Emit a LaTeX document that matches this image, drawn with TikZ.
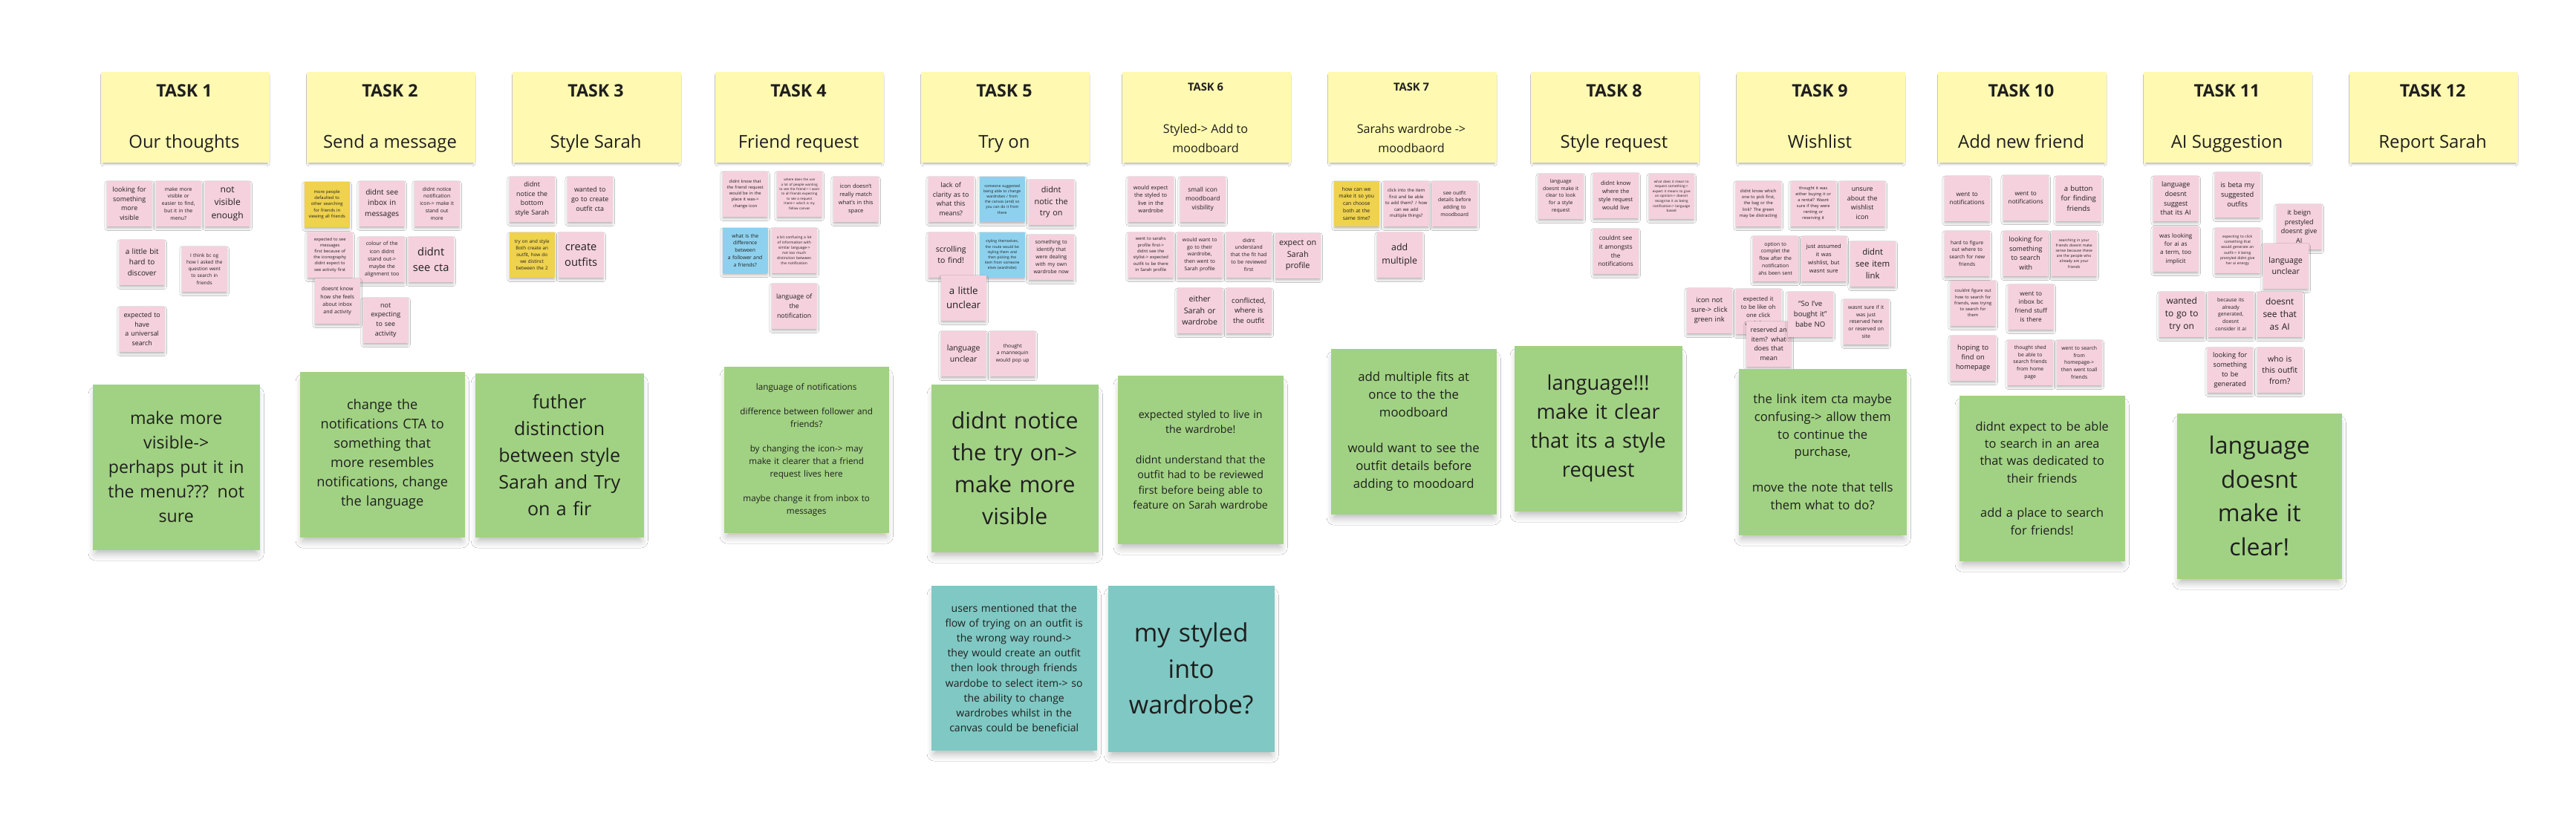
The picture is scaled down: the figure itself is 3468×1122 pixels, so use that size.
\documentclass[tikz,border=0pt]{standalone}
\usepackage{fontspec}
\setmainfont{Open Sans}
\usetikzlibrary{shadows.blur}
\definecolor{hdr}{HTML}{FFF9B1}
\definecolor{pnk}{HTML}{F5D1DD}
\definecolor{ylw}{HTML}{EFD24D}
\definecolor{blu}{HTML}{8ED1EE}
\definecolor{grn}{HTML}{A1D283}
\definecolor{tea}{HTML}{80C8C3}
\definecolor{txt}{HTML}{1F1F1F}
\newcommand\fsz[1]{\pgfmathsetmacro\fszv{0.70*#1}\fontsize{\fszv pt}{#1pt}\selectfont}
\tikzset{
  fs/.style={font=\fsz{#1}},
  stickynote/.style={anchor=north west, inner sep=0pt, align=center, text=txt,
    blur shadow={shadow xshift=0pt, shadow yshift=-0.9pt, shadow blur radius=1.1pt,
      shadow blur steps=5, shadow opacity=35, shadow scale=0.97}},
  bignote/.style={anchor=north west, inner sep=0pt, align=center, text=txt,
    blur shadow={shadow xshift=0pt, shadow yshift=-2.6pt, shadow blur radius=3pt,
      shadow blur steps=6, shadow opacity=30, shadow scale=0.96}},
  hdrtitle/.style={text=txt, font=\fontsize{6.6pt}{8pt}\selectfont\bfseries, inner sep=0pt, anchor=base},
  hdrsub/.style={text=txt, font=\fontsize{6.8pt}{8pt}\selectfont, inner sep=0pt, anchor=base},
  hdrtitlesm/.style={text=txt, font=\fontsize{4.2pt}{5pt}\selectfont\bfseries, inner sep=0pt, anchor=base},
  hdrsubsm/.style={text=txt, font=\fontsize{4.6pt}{7.4pt}\selectfont, inner sep=0pt, align=center},
}
% name, x, y, w, h, colour, baselineskip, text
\newcommand\stknote[8]{%
  \pgfmathsetmacro\stkw{#4*0.01}\pgfmathsetmacro\stkh{#5*0.01}\pgfmathsetmacro\stktw{#4*0.0096}%
  \node[stickynote, fill=#6, minimum width=\stkw cm, minimum height=\stkh cm, text width=\stktw cm, fs=#7] (#1) at (#2,#3) {#8};}
\newcommand\pnote[5]{\stknote{#1}{#2}{#3}{61}{61}{pnk}{#4}{#5}}
\newcommand\cnote[6]{\stknote{#1}{#2}{#3}{61}{61}{#4}{#5}{#6}}
\newcommand\bnote[8]{%
  \pgfmathsetmacro\stkw{#4*0.01}\pgfmathsetmacro\stkh{#5*0.01}\pgfmathsetmacro\stktw{#4*0.0096}%
  \node[bignote, fill=#6, minimum width=\stkw cm, minimum height=\stkh cm, text width=\stktw cm, fs=#7] (#1) at (#2,#3) {#8};}
\newcommand\hdbox[3]{%
  \node[stickynote, fill=hdr, minimum width=2.27cm, minimum height=1.22cm] (h#1) at (#2,96) {};
  \node[hdrtitle] (h#1t) at (#2+113,131) {TASK #1};
  \node[hdrsub] (h#1s) at (#2+113,200) {#3};}
\newcommand\hdboxsm[3]{%
  \node[stickynote, fill=hdr, minimum width=2.27cm, minimum height=1.22cm] (h#1) at (#2,96) {};
  \node[hdrtitlesm] (h#1t) at (#2+113,123) {TASK #1};
  \node[hdrsubsm] (h#1s) at (#2+113,186) {#3};}
\begin{document}
\begin{tikzpicture}[x=0.01cm,y=-0.01cm]
\useasboundingbox (0,0) rectangle (3468,1122);
\fill[white] (0,0) rectangle (3468,1122);
% headers
\hdbox{1}{135}{Our thoughts}
\hdbox{2}{412}{Send a message}
\hdbox{3}{689}{Style Sarah}
\hdbox{4}{962}{Friend request}
\hdbox{5}{1239}{Try on}
\hdboxsm{6}{1510}{Styled-> Add to\\moodboard}
\hdboxsm{7}{1787}{Sarahs wardrobe ->\\moodbaord}
\hdbox{8}{2060}{Style request}
\hdbox{9}{2337}{Wishlist}
\hdbox{10}{2608}{Add new friend}
\hdbox{11}{2885}{AI Suggestion}
\hdbox{12}{3162}{Report Sarah}
% column 1
\pnote{n1a}{143}{243}{3.61}{looking for\\something\\more\\visible}
\pnote{n1b}{209}{243}{2.78}{make more\\visible or\\easier to find,\\but it in the\\menu?}
\pnote{n1c}{275}{243}{4.92}{not\\visible\\enough}
\pnote{n1d}{160}{322}{4.07}{a little bit\\hard to\\discover}
\pnote{n1e}{244}{331}{2.62}{I think bc og\\how I asked the\\question went\\to search in\\friends}
\pnote{n1f}{160}{412}{3.61}{expected to\\have\\a universal\\search}
% column 2
\cnote{n2a}{409}{244}{ylw}{2.36}{more people\\defaulted to\\other searching\\for friends in\\viewing all friends}
\pnote{n2b}{483}{243}{4.07}{didnt see\\inbox in\\messages}
\pnote{n2c}{557}{243}{2.78}{didnt notice\\notification\\icon-> make it\\stand out\\more}
\pnote{n2d}{413}{312}{2.33}{expected to see\\messages\\first because of\\the iconography\\didnt expect to\\see activity first}
\pnote{n2e}{483}{318}{2.85}{colour of the\\icon didnt\\stand out->\\maybe the\\alignment too}
\pnote{n2f}{549}{318}{5.97}{didnt\\see cta}
\pnote{n2g}{423}{374}{2.85}{doesnt know\\how she feels\\about inbox\\and activity}
\pnote{n2h}{488}{400}{3.61}{not\\expecting\\to see\\activity}
% column 3
\pnote{n3a}{685}{237}{3.61}{didnt\\notice the\\bottom\\style Sarah}
\pnote{n3b}{763}{237}{3.61}{wanted to\\go to create\\outfit cta}
\cnote{n3c}{685}{312}{ylw}{2.56}{try on and style\\Both create an\\outfit, how do\\we distinct\\between the 2}
\pnote{n3d}{751}{312}{5.97}{create\\outfits}
% column 4
\pnote{n4a}{972}{230}{2.33}{didnt know that\\the friend request\\would be in the\\place it was->\\change icon}
\pnote{n4b}{1045}{230}{1.82}{where does the use\\a lot of people wanting\\to see the friend-> I want\\to all friends expecting\\to see a request\\there-> which is my\\follow canvas}
\pnote{n4c}{1121}{237}{3.07}{icon doesn't\\really match\\what's in this\\space}
\cnote{n4d}{972}{306}{blu}{2.78}{what is the\\difference\\between\\a follower and\\a friends?}
\pnote{n4e}{1038}{306}{2.02}{a bit confusing a lot\\of information with\\similar language->\\not too much\\distinction between\\the notification}
\pnote{n4f}{1038}{381}{3.56}{language of\\the\\notification}
% column 5
\pnote{n5a}{1249}{237}{3.61}{lack of\\clarity as to\\what this\\means?}
\cnote{n5b}{1318}{237}{blu}{2.05}{someone suggested\\being able to change\\wardrobes / from\\the canvas (and) so\\you can do it from\\there}
\pnote{n5c}{1384}{241}{4.41}{didnt\\notic the\\try on}
\pnote{n5d}{1249}{312}{4.27}{scrolling\\to find!}
\cnote{n5e}{1318}{312}{blu}{2.02}{styling themselves,\\the route would be\\styling them and\\then picking the\\item from someone\\elses (wardrobe)}
\pnote{n5f}{1384}{315}{2.82}{something to\\identify that\\were dealing\\with my own\\wardrobe now}
\pnote{n5g}{1266}{370}{5.4}{a little\\unclear}
\pnote{n5h}{1266}{445}{4.27}{language\\unclear}
\pnote{n5i}{1332}{445}{2.76}{thought\\a mannequin\\would pop up}
% column 6
\pnote{n6a}{1518}{237}{3.02}{would expect\\the styled to\\live in the\\wardrobe}
\pnote{n6b}{1588}{237}{3.41}{small icon\\moodboard\\visbility}
\pnote{n6c}{1518}{312}{2.36}{went to sarahs\\profile first->\\didnt see the\\stylist-> expected\\outfit to be there\\in Sarah profile}
\pnote{n6d}{1584}{312}{2.78}{would want to\\go to their\\wardrobe,\\then went to\\Sarah profile}
\pnote{n6e}{1650}{312}{2.78}{didnt\\understand\\that the fit had\\to be reviewed\\first}
\pnote{n6f}{1716}{313}{4.41}{expect on\\Sarah\\profile}
\pnote{n6g}{1584}{387}{4.32}{either\\Sarah or\\wardrobe}
\pnote{n6h}{1650}{387}{3.9}{conflicted,\\where is\\the outfit}
% column 7
\cnote{n7a}{1795}{243}{ylw}{2.78}{how can we\\make it so you\\can choose\\both at the\\same time?}
\pnote{n7b}{1862}{243}{2.42}{click into the item\\first and be able\\to add them? / how\\can we add\\multiple things?}
\pnote{n7c}{1927}{243}{2.78}{see outfit\\details before\\adding to\\moodboard}
\pnote{n7d}{1853}{312}{5.04}{add\\multiple}
% column 8
\pnote{n8a}{2070}{233}{2.78}{language\\doesnt make it\\clear to look\\for a style\\request}
\pnote{n8b}{2144}{232}{3.1}{didnt know\\where the\\style request\\would live}
\pnote{n8c}{2219}{233}{1.88}{what does it mean to\\request something->\\expect it means to give\\an opinion-> doesnt\\recognise it as being\\notification-> language\\based}
\pnote{n8d}{2144}{307}{3.32}{couldnt see\\it amongsts\\the\\notifications}
\pnote{n8e}{2270}{387}{3.78}{icon not\\sure-> click\\green ink}
% column 9
\pnote{n9a}{2336}{243}{2.36}{didnt know which\\one to pick first,\\the bag or the\\link? The green\\may be distracting}
\pnote{n9b}{2410}{243}{2.28}{thought it was\\either buying it or\\a rental? Wasnt\\sure if they were\\renting or\\reserving it}
\pnote{n9c}{2476}{243}{3.58}{unsure\\about the\\wishlist\\icon}
\pnote{n9d}{2359}{317}{2.78}{option to\\complet the\\flow after the\\notification\\ahs been sent}
\pnote{n9e}{2424}{317}{3.07}{just assumed\\it was\\wishlist, but\\wasnt sure}
\pnote{n9f}{2490}{324}{4.64}{didnt\\see item\\link}
\pnote{n9g}{2336}{388}{3.19}{expected it\\to be like oh\\one click\\and done}
\pnote{n9h}{2350}{432}{3.58}{reserved an\\item? what\\does that\\mean}
\pnote{n9i}{2406}{392}{3.9}{“So I've\\bought it”\\babe NO}
\pnote{n9j}{2481}{402}{2.78}{wasnt sure if it\\was just\\reserved here\\or reserved on\\site}
% column 10
\pnote{n10a}{2617}{236}{3.32}{went to\\notifications}
\pnote{n10b}{2696}{235}{3.32}{went to\\notifications}
\pnote{n10c}{2767}{236}{3.9}{a button\\for finding\\friends}
\pnote{n10d}{2617}{310}{2.76}{hard to figure\\out where to\\search for new\\friends}
\pnote{n10e}{2696}{310}{3.64}{looking for\\something\\to search\\with}
\pnote{n10f}{2761}{310}{2.05}{searching in your\\friends doesnt make\\sense because these\\are the people who\\already are your\\friends}
\pnote{n10g}{2625}{377}{2.35}{couldnt figure out\\how to search for\\friends, was trying\\to search for\\them}
\pnote{n10h}{2703}{382}{3.35}{went to\\inbox bc\\friend stuff\\is there}
\pnote{n10i}{2625}{451}{3.78}{hoping to\\find on\\homepage}
\pnote{n10j}{2702}{457}{2.77}{thought shed\\be able to\\search friends\\from home\\page}
\pnote{n10k}{2768}{457}{2.77}{went to search\\from\\homepage->\\then went toall\\friends}
% column 11
\pnote{n11a}{2898}{236}{3.67}{language\\doesnt\\suggest\\that its AI}
\pnote{n11b}{2981}{231}{3.78}{is beta my\\suggested\\outfits}
\pnote{n11c}{3064}{274}{3.64}{it beign\\prestyled\\doesnt give\\AI}
\pnote{n11d}{2898}{304}{3.24}{was looking\\for ai as\\a term, too\\implicit}
\pnote{n11e}{2981}{306}{2.02}{expecting to click\\something that\\would generate an\\outfit-> it being\\prestyled didnt give\\her ai energy}
\pnote{n11f}{3046}{327}{4.35}{language\\unclear}
\pnote{n11g}{2906}{392}{4.84}{wanted\\to go to\\try on}
\pnote{n11h}{2972}{392}{2.77}{because its\\already\\generated,\\doesnt\\consider it ai}
\pnote{n11i}{3038}{392}{4.84}{doesnt\\see that\\as AI}
\pnote{n11j}{2971}{467}{3.7}{looking for\\something\\to be\\generated}
\pnote{n11k}{3038}{467}{4.27}{who is\\this outfit\\from?}
% big summary notes
\bnote{g1}{124}{517}{225}{223}{grn}{9.4}{make more\\visible->\\perhaps put it in\\the menu??? not\\sure}
\bnote{g2}{403}{500}{222}{223}{grn}{7.4}{change the\\notifications CTA to\\something that\\more resembles\\notifications, change\\the language}
\bnote{g3}{639}{502}{227}{221}{grn}{10.2}{futher\\distinction\\between style\\Sarah and Try\\on a fir}
\bnote{g4}{974}{493}{222}{224}{grn}{4.74}{language of notifications\\[\baselineskip]difference between follower and\\friends?\\[\baselineskip]by changing the icon-> may\\make it clearer that a friend\\request lives here\\[\baselineskip]maybe change it from inbox to\\messages}
\bnote{g5}{1253}{517}{225}{226}{grn}{12.3}{didnt notice\\the try on->\\make more\\visible}
\bnote{g6}{1504}{505}{223}{227}{grn}{5.78}{expected styled to live in\\the wardrobe!\\[\baselineskip]didnt understand that the\\outfit had to be reviewed\\first before being able to\\feature on Sarah wardrobe}
\bnote{g7}{1791}{469}{223}{223}{grn}{6.8}{add multiple fits at\\once to the the\\moodboard\\[\baselineskip]would want to see the\\outfit details before\\adding to moodoard}
\bnote{g8}{2038}{465}{226}{223}{grn}{11.1}{language!!!\\make it clear\\that its a style\\request}
\bnote{g9}{2340}{496}{226}{224}{grn}{6.8}{the link item cta maybe\\confusing-> allow them\\to continue the\\purchase,\\[\baselineskip]move the note that tells\\them what to do?}
\bnote{g10}{2637}{532}{223}{223}{grn}{6.64}{didnt expect to be able\\to search in an area\\that was dedicated to\\their friends\\[\baselineskip]add a place to search\\for friends!}
\bnote{g11}{2930}{556}{222}{223}{grn}{13}{language\\doesnt\\make it\\clear!}
\bnote{t5}{1253}{788}{223}{222}{tea}{5.7}{users mentioned that the\\flow of trying on an outfit is\\the wrong way round->\\they would create an outfit\\then look through friends\\wardobe to select item-> so\\the ability to change\\wardrobes whilst in the\\canvas could be beneficial}
\bnote{t6}{1491}{788}{224}{224}{tea}{13.8}{my styled\\into\\wardrobe?}
\end{tikzpicture}
\end{document}
